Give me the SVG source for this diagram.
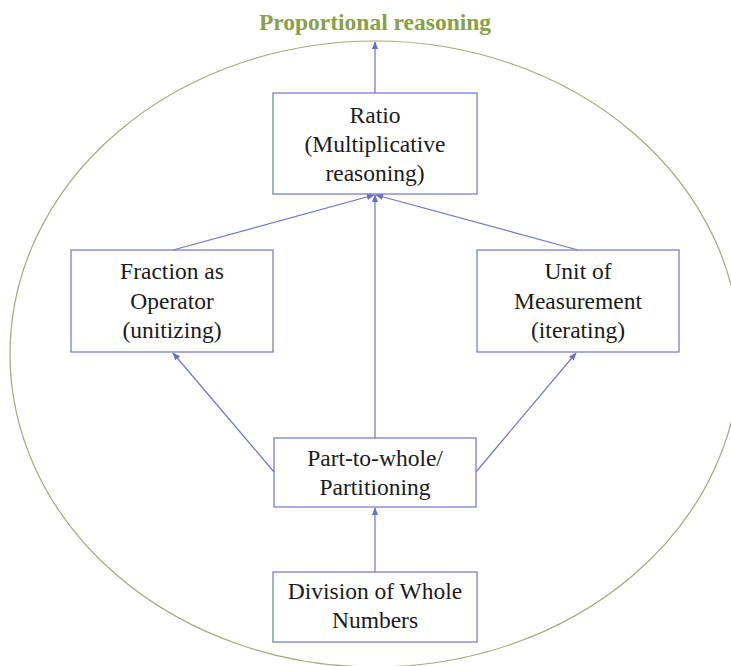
<svg xmlns="http://www.w3.org/2000/svg" width="731" height="666" viewBox="0 0 731 666">
<style>
.box{fill:none;stroke:#7b7fd0;stroke-width:1.3}
.t{font-family:"Liberation Serif","Times New Roman",serif;font-size:23.5px;fill:#1a1a1a;text-anchor:middle}
.c{stroke:#7075c6;stroke-width:1.2;fill:none;marker-end:url(#ah)}
</style>
<defs>
<marker id="ah" viewBox="0 0 10 10" refX="9" refY="5" markerWidth="8" markerHeight="8" markerUnits="userSpaceOnUse" orient="auto">
<path d="M0,1 L10,5 L0,9 Z" fill="#6a70c4"/>
</marker>
</defs>
<rect width="731" height="666" fill="#fff"/>
<ellipse cx="375" cy="354" rx="365" ry="313" fill="none" stroke="#a3a87a" stroke-width="1.2"/>
<text x="375" y="30" font-family="'Liberation Serif','Times New Roman',serif" font-size="23.5" font-weight="bold" fill="#86a14a" text-anchor="middle">Proportional reasoning</text>
<g id="connectors">
<line class="c" x1="375" y1="93" x2="375" y2="42"/>
<line class="c" x1="173" y1="250" x2="374" y2="195"/>
<line class="c" x1="578" y1="250" x2="376" y2="195"/>
<line class="c" x1="375" y1="438" x2="375" y2="195"/>
<line class="c" x1="274" y1="472" x2="173" y2="353"/>
<line class="c" x1="476" y1="472" x2="576" y2="353"/>
<line class="c" x1="375" y1="572" x2="375" y2="508"/>
</g>
<g id="ratio">
<rect class="box" x="273" y="93" width="204" height="101"/>
<text class="t" x="375" y="123">Ratio</text>
<text class="t" x="375" y="152">(Multiplicative</text>
<text class="t" x="375" y="181">reasoning)</text>
</g>
<g id="fraction">
<rect class="box" x="71" y="250" width="202" height="102"/>
<text class="t" x="172" y="279">Fraction as</text>
<text class="t" x="172" y="309">Operator</text>
<text class="t" x="172" y="338">(unitizing)</text>
</g>
<g id="unit">
<rect class="box" x="477" y="250" width="202" height="102"/>
<text class="t" x="578" y="279">Unit of</text>
<text class="t" x="578" y="309">Measurement</text>
<text class="t" x="578" y="338">(iterating)</text>
</g>
<g id="part">
<rect class="box" x="274" y="438" width="202" height="69"/>
<text class="t" x="375" y="466">Part-to-whole/</text>
<text class="t" x="375" y="495">Partitioning</text>
</g>
<g id="division">
<rect class="box" x="273" y="572" width="204" height="70"/>
<text class="t" x="375" y="599">Division of Whole</text>
<text class="t" x="375" y="628">Numbers</text>
</g>
</svg>
